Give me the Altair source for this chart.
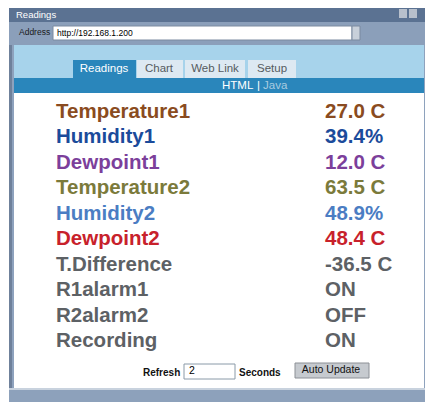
import altair as alt
import pandas as pd

# ---- content ----
labels = ["Temperature1", "Humidity1", "Dewpoint1", "Temperature2", "Humidity2",
          "Dewpoint2", "T.Difference", "R1alarm1", "R2alarm2", "Recording"]
values = ["27.0 C", "39.4%", "12.0 C", "63.5 C", "48.9%",
          "48.4 C", "-36.5 C", "ON", "OFF", "ON"]
colors = ["#8a4b20", "#1b4b9b", "#7c3f9b", "#7b7a3b", "#4b7dc3",
          "#c8212b", "#5d6165", "#5d6165", "#5d6165", "#5d6165"]
tabs = ["Readings", "Chart", "Web Link", "Setup"]
window_title = "Readings"
address_label = "Address"
url = "http://192.168.1.200"
refresh_seconds = "2"

W, H = 417, 394
X0, Y0 = 8, 8
xs = alt.Scale(domain=[X0, X0 + W], nice=False, zero=False)
ys = alt.Scale(domain=[Y0, Y0 + H], nice=False, zero=False, reverse=True)

T = "transparent"
# UI frame pieces (x, x2, y, y2, fill, stroke)
frame = [
    (9, 433, 8, 410, "#8ea2bd", T),
    (9, 433, 8, 22, "#5b7292", T),
    (9, 433, 22, 45, "#8b9fba", T),
    (53, 352, 26, 40, "#ffffff", "#7a8aa0"),
    (352, 360, 26, 40, "#c8d0da", "#7a8aa0"),
    (14, 424, 45, 78, "#a7d3eb", T),
    (73, 136, 60, 78, "#2a86bb", T),
    (137, 183, 60, 78, "#dde9f2", T),
    (185, 245, 60, 78, "#dde9f2", T),
    (248, 296, 60, 78, "#dde9f2", T),
    (14, 424, 78, 93, "#2a86bb", T),
    (14, 424, 93, 388, "#ffffff", T),
    (9, 12, 45, 390, "#6f819b", T),
    (9, 433, 388, 390, "#c8d2de", T),
    (9, 433, 390, 410, "#8da1bb", T),
    (399, 407, 9, 18, "#b8c0cc", T),
    (409, 417, 9, 18, "#b8c0cc", T),
    (184, 235, 364, 379, "#ffffff", "#8a9aa8"),
    (295, 369, 363, 378, "#c6cacf", "#8c9096"),
]
rect_df = pd.DataFrame(frame, columns=["x", "x2", "y", "y2", "fill", "stroke"])

rects = alt.Chart(rect_df).mark_rect(strokeWidth=1).encode(
    x=alt.X("x:Q", scale=xs, axis=None), x2="x2:Q",
    y=alt.Y("y:Q", scale=ys, axis=None), y2="y2:Q",
    fill=alt.Fill("fill:N", scale=None),
    stroke=alt.Stroke("stroke:N", scale=None),
)


def text_layer(rows, weight="normal", align="left"):
    df = pd.DataFrame(rows, columns=["x", "y", "t", "c", "s"])
    return alt.Chart(df).mark_text(
        align=align, baseline="middle", fontWeight=weight, font="Liberation Sans"
    ).encode(
        x=alt.X("x:Q", scale=xs, axis=None),
        y=alt.Y("y:Q", scale=ys, axis=None),
        text="t:N",
        color=alt.Color("c:N", scale=None),
        size=alt.Size("s:Q", scale=None),
    )


plain_left = text_layer([
    (16, 15, window_title, "#ffffff", 9.5),
    (19, 32, address_label, "#1a1a1a", 8.5),
    (57, 33, url, "#000000", 8.5),
    (222, 86, "HTML", "#ffffff", 11.5),
    (257, 86, "|", "#ffffff", 11.5),
    (263, 86, "Java", "#a9cce0", 11.5),
    (189, 370.5, refresh_seconds, "#000000", 10.5),
])
tab_centers = [104, 159, 215, 272]
plain_center = text_layer(
    [(cx, 69, t, "#ffffff" if i == 0 else "#555b60", 11.5)
     for i, (cx, t) in enumerate(zip(tab_centers, tabs))]
    + [(331, 370, "Auto Update", "#111111", 10.5)],
    align="center",
)
bold_left = text_layer([
    (143, 373, "Refresh", "#111111", 10),
    (239, 373, "Seconds", "#111111", 10),
], weight="bold")

read_df = pd.DataFrame({"label": labels, "value": values, "color": colors})
row_y = alt.Y("label:N", sort=labels,
              scale=alt.Scale(domain=labels, range=[118 - Y0, 347 - Y0], padding=0),
              axis=None)
FONT_R = "Liberation Sans"
read_labels = alt.Chart(read_df).mark_text(
    align="left", baseline="alphabetic", fontWeight="bold", fontSize=20.5, font=FONT_R
).encode(x=alt.value(56 - X0), y=row_y, text="label:N", color=alt.Color("color:N", scale=None))
read_values = alt.Chart(read_df).mark_text(
    align="left", baseline="alphabetic", fontWeight="bold", fontSize=20.5, font=FONT_R
).encode(x=alt.value(325 - X0), y=row_y, text="value:N", color=alt.Color("color:N", scale=None))

chart = alt.layer(
    rects, plain_left, plain_center, bold_left, read_labels, read_values
).resolve_scale(y="independent").properties(
    width=W, height=H, padding=0, autosize=alt.AutoSizeParams(type="none")
).configure_view(stroke=None)

chart.save("out.html", embed_options={"renderer": "svg", "actions": False})
